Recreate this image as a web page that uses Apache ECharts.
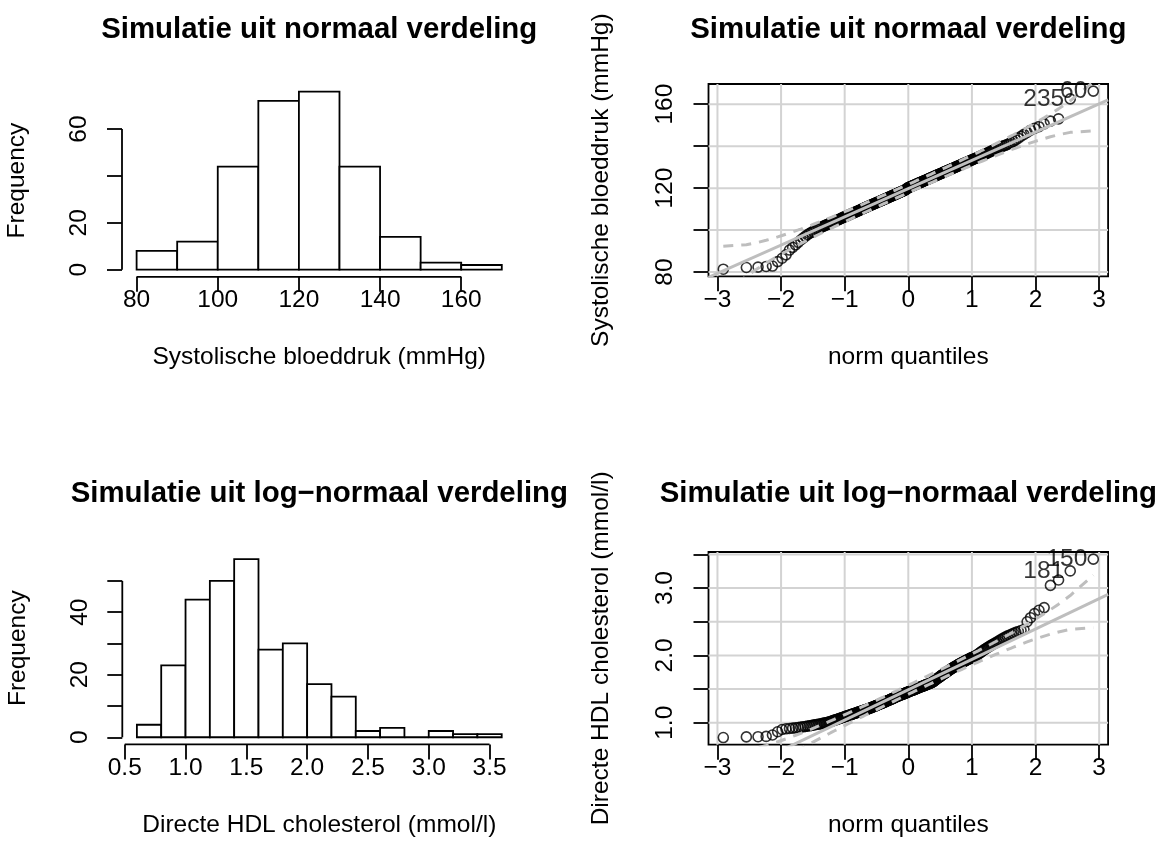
<!DOCTYPE html>
<html><head><meta charset="utf-8">
<script src="https://cdn.jsdelivr.net/npm/echarts@6/dist/echarts.min.js"></script>
<style>html,body{margin:0;padding:0;background:#fff}#c{width:1169px;height:867px}</style>
</head><body><div id="c"></div>
<script>
// ---------------- data ----------------
const panelTitles = ['Simulatie uit normaal verdeling', 'Simulatie uit normaal verdeling',
  'Simulatie uit log\u2212normaal verdeling', 'Simulatie uit log\u2212normaal verdeling'];
const sbpName = 'Systolische bloeddruk (mmHg)';
const hdlName = 'Directe HDL cholesterol (mmol/l)';
const qqXName = 'norm quantiles';

const sbpBinEdges = [80, 90, 100, 110, 120, 130, 140, 150, 160, 170];
const sbpCounts = [8, 12, 44, 72, 76, 44, 14, 3, 2];
const hdlBinEdges = [0.6, 0.8, 1.0, 1.2, 1.4, 1.6, 1.8, 2.0, 2.2, 2.4, 2.6, 2.8, 3.0, 3.2, 3.4, 3.6];
const hdlCounts = [4, 23, 44, 50, 57, 28, 30, 17, 13, 2, 3, 0, 2, 1, 1];

const hist1XTicks = [80, 100, 120, 140, 160];
const hist1YTicks = [0, 20, 40, 60];
const hist1YLabels = [0, 20, 60];
const hist2XTicks = [0.5, 1.0, 1.5, 2.0, 2.5, 3.0, 3.5];
const hist2YTicks = [0, 10, 20, 30, 40, 50];
const hist2YLabels = [0, 20, 40];
const qqXTicks = [-3, -2, -1, 0, 1, 2, 3];
const qq1YTicks = [80, 100, 120, 140, 160];
const qq1YLabels = [80, 120, 160];
const qq2YTicks = [1.0, 1.5, 2.0, 2.5, 3.0, 3.5];
const qq2YLabels = [1.0, 2.0, 3.0];

// sorted sample values
const sbpSorted = [
 81.4, 82.2, 82.4, 82.7, 82.9, 85.0, 86.6, 88.2,
 90.5, 91.8, 93.0, 94.2, 95.3, 96.2, 97.0, 97.8, 98.4, 98.9, 99.4, 99.8,
 100.4, 100.7, 101.0, 101.4, 101.7, 102.0, 102.3, 102.6, 102.8, 103.1, 103.4, 103.6, 103.9, 104.1, 104.3,
 104.6, 104.8, 105.0, 105.2, 105.5, 105.7, 105.9, 106.2, 106.3, 106.5, 106.7, 106.9, 107.1, 107.3, 107.5,
 107.7, 107.9, 108.0, 108.2, 108.4, 108.6, 108.7, 108.9, 109.1, 109.2, 109.4, 109.6, 109.7, 109.9,
 110.1, 110.3, 110.4, 110.6, 110.7, 110.9, 111.0, 111.2, 111.3, 111.5,
 111.6, 111.8, 111.9, 112.0, 112.2, 112.3, 112.5, 112.6, 112.7, 112.9,
 113.0, 113.2, 113.3, 113.4, 113.6, 113.7, 113.8, 114.0, 114.1, 114.2,
 114.4, 114.5, 114.6, 114.8, 114.9, 115.0, 115.2, 115.3, 115.4, 115.5,
 115.7, 115.8, 115.9, 116.1, 116.2, 116.3, 116.4, 116.6, 116.7, 116.8,
 116.9, 117.1, 117.2, 117.3, 117.4, 117.6, 117.7, 117.8, 117.9, 118.1,
 118.2, 118.3, 118.4, 118.6, 118.7, 118.8, 118.9, 119.1, 119.2, 119.4,
 119.6, 119.8,
 120.1, 120.2, 120.3, 120.5, 120.6, 120.7, 120.8, 120.9, 121.1, 121.2,
 121.3, 121.4, 121.5, 121.6, 121.8, 121.9, 122.0, 122.1, 122.3, 122.4,
 122.5, 122.6, 122.7, 122.9, 123.0, 123.1, 123.2, 123.4, 123.5, 123.6,
 123.7, 123.9, 124.0, 124.1, 124.2, 124.4, 124.5, 124.6, 124.8, 124.9,
 125.0, 125.1, 125.3, 125.4, 125.5, 125.7, 125.8, 125.9, 126.1, 126.2,
 126.3, 126.5, 126.6, 126.7, 126.9, 127.0, 127.1, 127.3, 127.4, 127.6,
 127.7, 127.9, 128.0, 128.1, 128.3, 128.4, 128.6, 128.7, 128.9, 129.0,
 129.2, 129.3, 129.5, 129.6, 129.8, 129.9,
 130.1, 130.3, 130.4, 130.6, 130.8, 130.9, 131.1, 131.3, 131.4, 131.6,
 131.8, 132.0, 132.2, 132.3, 132.5, 132.7, 132.9, 133.1, 133.3, 133.5,
 133.7, 133.9, 134.1, 134.3, 134.5, 134.7, 135.0, 135.2, 135.4, 135.7,
 135.9, 136.2, 136.4, 136.7, 137.0, 137.3, 137.6, 137.9, 138.2, 138.5,
 138.8, 139.1, 139.4, 139.8,
 140.1, 140.4, 140.8, 141.2, 141.7, 142.3, 143.0, 143.8, 144.7, 145.6, 146.5, 147.6, 148.5, 149.3,
 150.6, 151.9, 153.0,
 162.5, 166.2
];
const hdlSorted = [
 0.780, 0.790, 0.793, 0.797,
 0.818, 0.866, 0.900, 0.910, 0.915, 0.920, 0.925, 0.930, 0.935, 0.940, 0.945, 0.950, 0.955, 0.960,
 0.965, 0.970, 0.975, 0.978, 0.982, 0.986, 0.990, 0.994, 0.998,
 1.003, 1.008, 1.013, 1.019, 1.025, 1.031, 1.036, 1.042, 1.047, 1.053,
 1.058, 1.064, 1.069, 1.074, 1.079, 1.084, 1.089, 1.094, 1.099, 1.103,
 1.108, 1.112, 1.117, 1.121, 1.125, 1.130, 1.134, 1.138, 1.142, 1.146,
 1.151, 1.155, 1.159, 1.163, 1.167, 1.170, 1.174, 1.178, 1.182, 1.186,
 1.190, 1.193, 1.196, 1.199,
 1.203, 1.207, 1.212, 1.215, 1.219, 1.222, 1.227, 1.231, 1.236, 1.239,
 1.243, 1.246, 1.251, 1.255, 1.259, 1.264, 1.267, 1.271, 1.275, 1.280,
 1.283, 1.287, 1.291, 1.294, 1.299, 1.303, 1.308, 1.311, 1.315, 1.319,
 1.323, 1.328, 1.331, 1.335, 1.338, 1.343, 1.347, 1.352, 1.355, 1.359,
 1.363, 1.367, 1.372, 1.375, 1.379, 1.383, 1.386, 1.391, 1.395, 1.398,
 1.402, 1.405, 1.409, 1.412, 1.416, 1.419, 1.423, 1.426, 1.430, 1.433,
 1.437, 1.440, 1.444, 1.447, 1.451, 1.454, 1.458, 1.461, 1.465, 1.468,
 1.472, 1.475, 1.479, 1.482, 1.486, 1.489, 1.493, 1.496, 1.500, 1.503,
 1.507, 1.510, 1.514, 1.517, 1.521, 1.524, 1.528, 1.531, 1.535, 1.538,
 1.542, 1.545, 1.549, 1.552, 1.556, 1.559, 1.563, 1.566, 1.570, 1.573,
 1.577, 1.580, 1.584, 1.587, 1.591, 1.594, 1.598,
 1.605, 1.612, 1.619, 1.626, 1.633, 1.640, 1.647, 1.654, 1.661, 1.668,
 1.675, 1.682, 1.689, 1.696, 1.703, 1.710, 1.717, 1.724, 1.731, 1.738,
 1.745, 1.752, 1.759, 1.766, 1.773, 1.780, 1.787, 1.795,
 1.803, 1.810, 1.816, 1.823, 1.830, 1.836, 1.843, 1.850, 1.856, 1.863,
 1.870, 1.876, 1.883, 1.890, 1.896, 1.903, 1.910, 1.916, 1.923, 1.930,
 1.936, 1.943, 1.950, 1.956, 1.963, 1.970, 1.976, 1.983, 1.990, 1.996,
 2.006, 2.018, 2.030, 2.042, 2.054, 2.066, 2.078, 2.090, 2.102, 2.114,
 2.126, 2.138, 2.150, 2.162, 2.174, 2.186, 2.197,
 2.212, 2.228, 2.243, 2.258, 2.272, 2.286, 2.300, 2.314, 2.328, 2.342, 2.356, 2.370, 2.385,
 2.500, 2.560,
 2.620, 2.670, 2.710,
 3.040, 3.120,
 3.255,
 3.430
];
// identified extreme points (rank in sorted order -> case label)
const sbpPointLabels = [{rank: 274, id: '235'}, {rank: 275, id: '60'}];
const hdlPointLabels = [{rank: 274, id: '181'}, {rank: 275, id: '150'}];
// reference lines (intercept, slope)
const sbpRefLine = {a: 119.8, b: 13.46};
const hdlRefLine = {a: 1.49, b: 0.451};

// ---------------- layout / style ----------------
const FONT = '"Liberation Sans", Arial, Helvetica, sans-serif';
const AX = 24.5, TT = 29.4;
const LW = 1.8;
const GRID_COL = '#d3d3d3', LINE_COL = '#bebebe';
const grids = [
  {left: 122, top: 84.4, width: 394.4, height: 192.4},
  {left: 708.5, top: 84, width: 399.6, height: 192.3},
  {left: 122.3, top: 551.9, width: 394, height: 192.5},
  {left: 708.5, top: 552, width: 399.6, height: 192.7}
];

// ---------------- helpers ----------------
function qnorm(p) {
  const a = [-3.969683028665376e+01, 2.209460984245205e+02, -2.759285104469687e+02, 1.383577518672690e+02, -3.066479806614716e+01, 2.506628277459239e+00];
  const b = [-5.447609879822406e+01, 1.615858368580409e+02, -1.556989798598866e+02, 6.680131188771972e+01, -1.328068155288572e+01];
  const c = [-7.784894002430293e-03, -3.223964580411365e-01, -2.400758277161838e+00, -2.549732539343734e+00, 4.374664141464968e+00, 2.938163982698783e+00];
  const d = [7.784695709041462e-03, 3.224671290700398e-01, 2.445134137142996e+00, 3.754408661907416e+00];
  const pl = 0.02425, ph = 1 - pl;
  let q, r;
  if (p < pl) { q = Math.sqrt(-2 * Math.log(p)); return (((((c[0]*q+c[1])*q+c[2])*q+c[3])*q+c[4])*q+c[5]) / ((((d[0]*q+d[1])*q+d[2])*q+d[3])*q+1); }
  if (p > ph) { q = Math.sqrt(-2 * Math.log(1 - p)); return -(((((c[0]*q+c[1])*q+c[2])*q+c[3])*q+c[4])*q+c[5]) / ((((d[0]*q+d[1])*q+d[2])*q+d[3])*q+1); }
  q = p - 0.5; r = q * q;
  return (((((a[0]*r+a[1])*r+a[2])*r+a[3])*r+a[4])*r+a[5])*q / (((((b[0]*r+b[1])*r+b[2])*r+b[3])*r+b[4])*r+1);
}
function dnorm(z) { return Math.exp(-z * z / 2) / Math.sqrt(2 * Math.PI); }
function ext(lo, hi) { const d = (hi - lo) * 0.04; return [lo - d, hi + d]; }
const minusFmt = v => (v < 0 ? '\u2212' + (-v) : String(v));
const txt = {color: '#000', fontSize: AX, fontFamily: FONT};

const xAxes = [], yAxes = [], series = [];

function segment(gi, pts, color, width, z, dash) {
  series.push({type: 'line', xAxisIndex: gi, yAxisIndex: gi, data: pts, symbol: 'none', silent: true,
    clip: false, animation: false, z: z, lineStyle: {color: color, width: width, type: dash || 'solid'}});
}

function histPanel(gi, edges, counts, xTicks, yTicks, yLabels, xFmt, xName) {
  const [xMin, xMax] = ext(edges[0], edges[edges.length - 1]);
  const cMax = Math.max.apply(null, counts);
  const [yMin, yMax] = ext(0, cMax);
  xAxes.push({gridIndex: gi, type: 'value', min: xMin, max: xMax, axisLine: {show: false, onZero: false}, splitLine: {show: false},
    axisTick: {show: true, customValues: xTicks, length: 15, lineStyle: {color: '#000', width: LW}},
    axisLabel: Object.assign({customValues: xTicks, formatter: xFmt, margin: 11}, txt),
    name: xName, nameLocation: 'middle', nameGap: 68, nameTextStyle: txt});
  yAxes.push({gridIndex: gi, type: 'value', min: yMin, max: yMax, axisLine: {show: false, onZero: false}, splitLine: {show: false},
    axisTick: {show: true, customValues: yTicks, length: 15, lineStyle: {color: '#000', width: LW}},
    axisLabel: Object.assign({customValues: yLabels, rotate: 90, margin: 30}, txt),
    name: 'Frequency', nameLocation: 'middle', nameGap: 92, nameTextStyle: txt});
  series.push({type: 'custom', xAxisIndex: gi, yAxisIndex: gi, silent: true, animation: false, z: 3,
    data: counts.map((c, i) => [edges[i], edges[i + 1], c]),
    encode: {x: [0, 1], y: 2},
    renderItem: function (params, api) {
      const p0 = api.coord([api.value(0), 0]);
      const p1 = api.coord([api.value(1), api.value(2)]);
      return {type: 'rect', shape: {x: p0[0], y: p1[1], width: p1[0] - p0[0], height: p0[1] - p1[1]},
        style: {fill: '#fff', stroke: '#000', lineWidth: LW}};
    }});
  segment(gi, [[xTicks[0], yMin], [xTicks[xTicks.length - 1], yMin]], '#000', LW, 5);
  segment(gi, [[xMin, yTicks[0]], [xMin, yTicks[yTicks.length - 1]]], '#000', LW, 5);
}

function qqPanel(gi, sorted, yTicks, yLabels, yFmt, yName, line, pointLabels) {
  const n = sorted.length;
  const P = sorted.map((v, i) => (i + 0.5) / n);
  const Z = P.map(qnorm);
  const [xMin, xMax] = ext(Z[0], Z[n - 1]);
  const [yMin, yMax] = ext(sorted[0], sorted[n - 1]);
  xAxes.push({gridIndex: gi, type: 'value', min: xMin, max: xMax, axisLine: {show: false, onZero: false}, splitLine: {show: false},
    axisTick: {show: true, customValues: qqXTicks, length: 15, lineStyle: {color: '#000', width: LW}},
    axisLabel: Object.assign({customValues: qqXTicks, formatter: minusFmt, margin: 11}, txt),
    name: qqXName, nameLocation: 'middle', nameGap: 68, nameTextStyle: txt});
  yAxes.push({gridIndex: gi, type: 'value', min: yMin, max: yMax, axisLine: {show: false, onZero: false}, splitLine: {show: false},
    axisTick: {show: true, customValues: yTicks, length: 15, lineStyle: {color: '#000', width: LW}},
    axisLabel: Object.assign({customValues: yLabels, rotate: 90, margin: 31, formatter: yFmt}, txt),
    name: yName, nameLocation: 'middle', nameGap: 95, nameTextStyle: txt});
  // grid lines
  qqXTicks.forEach(v => segment(gi, [[v, yMin], [v, yMax]], GRID_COL, 2, 1));
  yTicks.forEach(v => segment(gi, [[xMin, v], [xMax, v]], GRID_COL, 2, 1));
  // points
  series.push({type: 'scatter', xAxisIndex: gi, yAxisIndex: gi, silent: true, animation: false, z: 3,
    data: sorted.map((v, i) => [Z[i], v]), symbol: 'circle', symbolSize: 10,
    itemStyle: {color: 'rgba(0,0,0,0)', borderColor: '#000', borderWidth: 1.6}});
  // reference line and 95% envelope
  const fit = z => line.a + line.b * z;
  const lineSeries = (pts, dash) => series.push({type: 'line', xAxisIndex: gi, yAxisIndex: gi, data: pts,
    symbol: 'none', silent: true, clip: true, animation: false, z: 4,
    lineStyle: {color: LINE_COL, width: 3, type: dash ? [10, 8] : 'solid'}});
  lineSeries([[xMin, fit(xMin)], [xMax, fit(xMax)]], false);
  const se = Z.map((z, i) => (line.b / dnorm(z)) * Math.sqrt(P[i] * (1 - P[i]) / n));
  const zz = qnorm(0.975);
  lineSeries(Z.map((z, i) => [z, fit(z) + zz * se[i]]), true);
  lineSeries(Z.map((z, i) => [z, fit(z) - zz * se[i]]), true);
  // labelled points
  series.push({type: 'scatter', xAxisIndex: gi, yAxisIndex: gi, silent: true, animation: false, z: 6,
    data: pointLabels.map(o => ({value: [Z[o.rank - 1], sorted[o.rank - 1]], name: o.id})),
    symbolSize: 10, itemStyle: {color: 'rgba(0,0,0,0)', borderWidth: 0},
    label: Object.assign({show: true, position: 'left', distance: 1, formatter: p => p.name}, txt)});
}

histPanel(0, sbpBinEdges, sbpCounts, hist1XTicks, hist1YTicks, hist1YLabels, v => String(v), sbpName);
qqPanel(1, sbpSorted, qq1YTicks, qq1YLabels, v => String(v), sbpName, sbpRefLine, sbpPointLabels);
histPanel(2, hdlBinEdges, hdlCounts, hist2XTicks, hist2YTicks, hist2YLabels, v => v.toFixed(1), hdlName);
qqPanel(3, hdlSorted, qq2YTicks, qq2YLabels, v => v.toFixed(1), hdlName, hdlRefLine, hdlPointLabels);

const titleCenters = [
  [grids[0].left + grids[0].width / 2, 15], [grids[1].left + grids[1].width / 2, 15],
  [grids[2].left + grids[2].width / 2, 479], [grids[3].left + grids[3].width / 2, 479]
];
const option = {
  animation: false,
  backgroundColor: '#fff',
  title: panelTitles.map((t, i) => ({text: t, left: titleCenters[i][0], top: titleCenters[i][1], textAlign: 'center', padding: 0,
    textStyle: {color: '#000', fontSize: TT, fontWeight: 'bold', fontFamily: FONT}})),
  grid: grids.map((g, i) => Object.assign({show: i % 2 === 1, borderColor: '#000', borderWidth: LW,
    backgroundColor: 'rgba(0,0,0,0)', containLabel: false}, g)),
  xAxis: xAxes,
  yAxis: yAxes,
  series: series
};
const chart = echarts.init(document.getElementById('c'), null, {renderer: 'canvas'});
chart.setOption(option);
</script></body></html>
